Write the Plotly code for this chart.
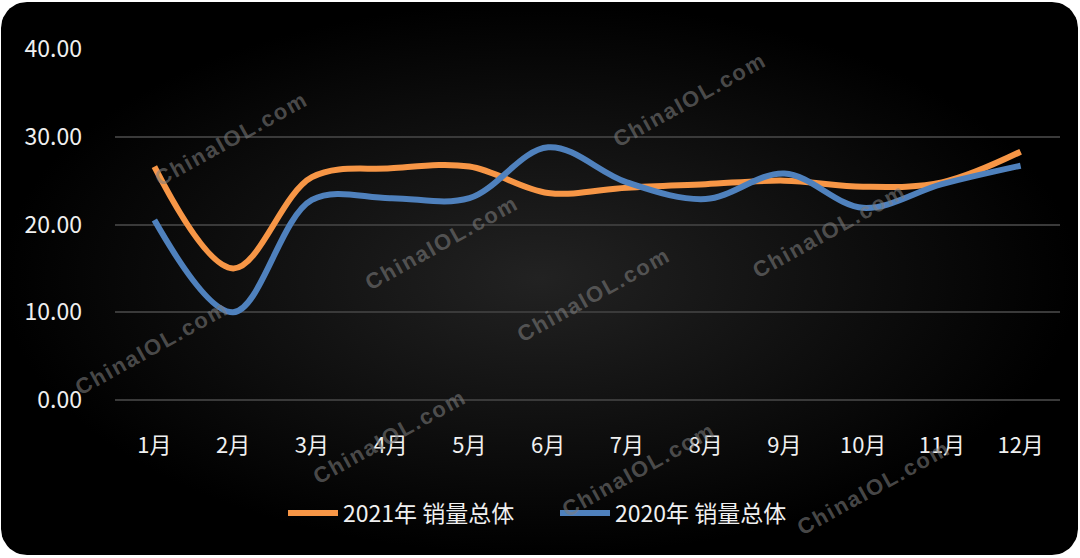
import numpy as np
import plotly.graph_objects as go

months = ["1月", "2月", "3月", "4月", "5月", "6月", "7月", "8月", "9月", "10月", "11月", "12月"]
sales_2021 = [26.6, 15.0, 25.4, 26.4, 26.6, 23.6, 24.2, 24.6, 25.0, 24.3, 24.8, 28.3]
sales_2020 = [20.5, 10.0, 22.8, 23.0, 23.0, 28.8, 24.8, 22.9, 25.8, 21.9, 24.6, 26.7]
y_tick_values = [0, 10, 20, 30, 40]
y_tick_labels = ["0.00", "10.00", "20.00", "30.00", "40.00"]
series_names = ["2021年 销量总体", "2020年 销量总体"]
unit_label = "单位：万台"
watermark = "ChinaIOL.com"

W, H = 1080, 558
FONT = "Noto Sans CJK SC"
TXT = "#f0f0f0"

fig = go.Figure()

# rounded dark panel with radial gradient (background subplot in pixel coordinates)
x0, y0, x1, y1, r = 1, 2, 1078, 555, 26
px, py = [], []
for cx, cy, a0 in [(x1 - r, y0 + r, -90), (x1 - r, y1 - r, 0), (x0 + r, y1 - r, 90), (x0 + r, y0 + r, 180)]:
    for a in np.linspace(a0, a0 + 90, 12):
        px.append(cx + r * np.cos(np.radians(a)))
        py.append(cy + r * np.sin(np.radians(a)))
px.append(px[0]); py.append(py[0])
fig.add_trace(go.Scatter(
    x=px, y=py, mode="lines", fill="toself", line=dict(width=0, color="#000"),
    fillgradient=dict(type="radial", colorscale=[[0, "#222222"], [1, "#000000"]]),
    hoverinfo="skip", showlegend=False, xaxis="x", yaxis="y"))

colors = ["#F79646", "#4F81BD"]
for name, vals, col in [(series_names[0], sales_2021, colors[0]), (series_names[1], sales_2020, colors[1])]:
    fig.add_trace(go.Scatter(
        x=months, y=vals, name=name, mode="lines",
        line=dict(color=col, width=6, shape="spline", smoothing=1.0),
        xaxis="x2", yaxis="y2", hoverinfo="skip"))

# watermarks
wm_text = "<b>" + "\u200a".join(list(watermark)) + "</b>"
wm_pos = [(230, 140), (688, 100), (440, 243), (592, 295), (828, 232),
          (150, 348), (388, 437), (637, 470), (872, 488)]
annotations = []
for (wx, wy) in wm_pos:
    annotations.append(dict(
        x=wx / W, y=1 - wy / H, xref="paper", yref="paper", text=wm_text,
        showarrow=False, textangle=-29,
        font=dict(family="Liberation Sans", size=22, color="rgba(125,125,125,0.58)"),
        xanchor="center", yanchor="middle"))

# vertical unit label, one character per line
for i, ch in enumerate(unit_label):
    annotations.append(dict(
        x=53 / W, y=1 - (431 + 25 * i) / H, xref="paper", yref="paper",
        text=ch, showarrow=False,
        font=dict(family=FONT, size=19, color="#000000"),
        xanchor="center", yanchor="middle"))

fig.update_layout(
    width=W, height=H,
    margin=dict(l=0, r=0, t=0, b=0, autoexpand=False),
    paper_bgcolor="#ffffff",
    plot_bgcolor="rgba(0,0,0,0)",
    font=dict(family=FONT, size=22, color=TXT),
    xaxis=dict(domain=[0, 1], range=[0, W], visible=False, fixedrange=True),
    yaxis=dict(domain=[0, 1], range=[H, 0], visible=False, fixedrange=True),
    xaxis2=dict(domain=[115 / W, 1060 / W], anchor="y2", type="category",
                range=[-0.5, 11.5], showgrid=False, showline=False, ticks="",
                ticklabelstandoff=30,
                tickfont=dict(family=FONT, size=22, color=TXT)),
    yaxis2=dict(domain=[1 - 400 / H, 1 - 49 / H], anchor="x2", range=[0, 40],
                tickvals=y_tick_values, ticktext=y_tick_labels,
                showgrid=True, gridcolor="#3a3a3a", gridwidth=1.5,
                zeroline=True, zerolinecolor="#3a3a3a", zerolinewidth=1.5,
                ticks="", ticklabelstandoff=32,
                tickfont=dict(family=FONT, size=23, color=TXT)),
    legend=dict(orientation="h", x=283 / W, xanchor="left", y=1 - 513 / H, yanchor="middle",
                font=dict(family=FONT, size=23, color=TXT),
                bgcolor="rgba(0,0,0,0)", itemwidth=50, entrywidth=207, entrywidthmode="pixels",
                traceorder="normal"),
    annotations=annotations,
)

fig.write_html("out.html", post_script="document.body.style.margin='0px';",
               config={"displayModeBar": False})
